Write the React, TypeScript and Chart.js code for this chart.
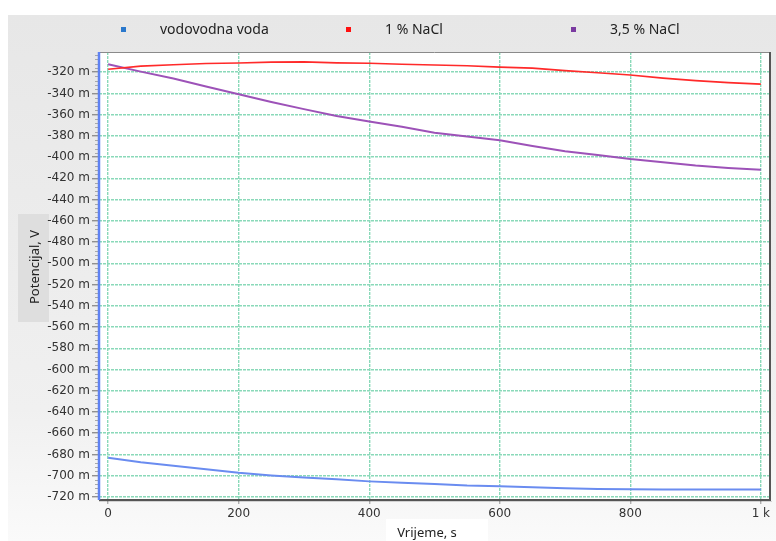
import React, { useEffect, useRef } from "react";
import { Chart, registerables } from "chart.js";

Chart.register(...registerables);

// ---- data (potential in mV, time in s) ----
const TIME_S = [0, 50, 100, 150, 200, 250, 300, 350, 400, 450, 500, 550, 600, 650, 700, 750, 800, 850, 900, 950, 1000];
const TAP_WATER_MV = [-683.1, -687.3, -690.7, -694.0, -697.3, -699.8, -701.8, -703.5, -705.4, -706.7, -707.9, -709.3, -710.0, -711.0, -711.8, -712.5, -712.9, -713.1, -713.1, -713.1, -713.1];
const NACL_1_MV = [-317.2, -314.3, -313.0, -311.8, -311.3, -310.5, -310.3, -311.2, -311.6, -312.6, -313.3, -314.0, -315.2, -316.2, -318.5, -320.5, -322.6, -325.6, -328.0, -329.8, -331.3];
const NACL_35_MV = [-312.5, -319.5, -326.0, -333.5, -340.7, -348.0, -354.8, -361.2, -366.4, -371.5, -377.0, -380.6, -384.2, -389.5, -394.5, -398.0, -401.8, -404.8, -408.0, -410.2, -411.9];

const SERIES_LABELS = ["vodovodna voda", "1 % NaCl", "3,5 % NaCl"];
const LINE_COLORS = ["#6a8cf0", "#ff2a2a", "#9d52b8"];
const MARKER_COLORS = ["#2a78cc", "#ff1010", "#7a3aa0"];

const X_TICKS = [0, 200, 400, 600, 800, 1000];
const X_TICK_LABELS = ["0", "200", "400", "600", "800", "1 k"];
const Y_TICKS = [-720, -700, -680, -660, -640, -620, -600, -580, -560, -540, -520, -500, -480, -460, -440, -420, -400, -380, -360, -340, -320];
const Y_MINOR_STEP = 4;

const X_TITLE = "Vrijeme, s";
const Y_TITLE = "Potencijal, V";

const W = 776;
const H = 541;

const decorPlugin = {
  id: "decor",
  beforeDraw(chart: any) {
    const ctx = chart.ctx;
    const ca = chart.chartArea;
    ctx.save();
    ctx.fillStyle = "#ffffff";
    ctx.fillRect(0, 0, W, H);
    const g = ctx.createLinearGradient(0, 15, 0, H);
    g.addColorStop(0, "#e7e7e7");
    g.addColorStop(0.75, "#f0f0f0");
    g.addColorStop(1, "#fafafa");
    ctx.fillStyle = g;
    ctx.fillRect(8, 15, W - 8, H - 15);
    // plot area
    ctx.fillStyle = "#ffffff";
    ctx.fillRect(ca.left, ca.top, ca.right - ca.left, ca.bottom - ca.top);
    // title boxes
    ctx.fillStyle = "#dedede";
    ctx.fillRect(18, 214, 31, 108);
    ctx.fillStyle = "#ffffff";
    ctx.fillRect(386, 519, 102, H - 519);
    ctx.restore();
  },
  afterDraw(chart: any) {
    const ctx = chart.ctx;
    const ca = chart.chartArea;
    const ys = chart.scales.y;
    ctx.save();
    // minor ticks on y axis
    ctx.strokeStyle = "#a8a8a8";
    ctx.lineWidth = 1;
    for (let v = Y_TICKS[0]; v <= ys.max; v += Y_MINOR_STEP) {
      if (v % 20 === 0) continue;
      const py = Math.round(ys.getPixelForValue(v)) + 0.5;
      if (py < ca.top || py > ca.bottom) continue;
      ctx.beginPath();
      ctx.moveTo(ca.left - 4, py);
      ctx.lineTo(ca.left, py);
      ctx.stroke();
    }
    // borders
    ctx.strokeStyle = "#8a8a8a";
    ctx.lineWidth = 1;
    ctx.beginPath();
    ctx.moveTo(ca.left, ca.top + 0.5);
    ctx.lineTo(ca.right, ca.top + 0.5);
    ctx.stroke();
    ctx.strokeStyle = "#555555";
    ctx.lineWidth = 2;
    ctx.beginPath();
    ctx.moveTo(ca.right, ca.top);
    ctx.lineTo(ca.right, ca.bottom + 1);
    ctx.stroke();
    ctx.beginPath();
    ctx.moveTo(ca.left, ca.bottom + 1);
    ctx.lineTo(ca.right + 1, ca.bottom + 1);
    ctx.stroke();
    ctx.strokeStyle = "rgba(0,0,0,0.15)";
    ctx.lineWidth = 1;
    ctx.beginPath();
    ctx.moveTo(ca.left, ca.bottom + 2.5);
    ctx.lineTo(ca.right + 2, ca.bottom + 2.5);
    ctx.stroke();
    ctx.strokeStyle = "#5f82f2";
    ctx.lineWidth = 2.5;
    ctx.beginPath();
    ctx.moveTo(ca.left, ca.top);
    ctx.lineTo(ca.left, ca.bottom + 1);
    ctx.stroke();

    // legend
    const legendX = [121, 346, 571];
    ctx.font = "14px 'Noto Sans'";
    ctx.textBaseline = "middle";
    ctx.textAlign = "left";
    SERIES_LABELS.forEach((lab, i) => {
      ctx.fillStyle = MARKER_COLORS[i];
      ctx.fillRect(legendX[i], 27, 5, 5);
      ctx.fillStyle = "#222222";
      ctx.fillText(lab, legendX[i] + 39, 30);
    });

    // axis titles
    ctx.fillStyle = "#222222";
    ctx.font = "13px 'Noto Sans'";
    ctx.textAlign = "center";
    ctx.textBaseline = "middle";
    ctx.fillText(X_TITLE, 427, 533);
    ctx.save();
    ctx.translate(35, 267);
    ctx.rotate(-Math.PI / 2);
    ctx.fillText(Y_TITLE, 0, 0);
    ctx.restore();
    ctx.restore();
  },
};

export default function App() {
  const canvasRef = useRef<HTMLCanvasElement | null>(null);

  useEffect(() => {
    document.body.style.margin = "0";
    const canvas = canvasRef.current;
    if (!canvas) return;
    const chart = new Chart(canvas, {
      type: "line",
      data: {
        datasets: [
          {
            label: SERIES_LABELS[0],
            data: TIME_S.map((t, i) => ({ x: t, y: TAP_WATER_MV[i] })),
            borderColor: LINE_COLORS[0],
            borderWidth: 2,
            pointRadius: 0,
            tension: 0,
          },
          {
            label: SERIES_LABELS[1],
            data: TIME_S.map((t, i) => ({ x: t, y: NACL_1_MV[i] })),
            borderColor: LINE_COLORS[1],
            borderWidth: 1.6,
            pointRadius: 0,
            tension: 0,
          },
          {
            label: SERIES_LABELS[2],
            data: TIME_S.map((t, i) => ({ x: t, y: NACL_35_MV[i] })),
            borderColor: LINE_COLORS[2],
            borderWidth: 2,
            pointRadius: 0,
            tension: 0,
          },
        ],
      },
      options: {
        animation: false,
        responsive: false,
        devicePixelRatio: 1,
        layout: { padding: { top: 52, right: 6, left: 0, bottom: 0 } },
        plugins: {
          legend: { display: false },
          tooltip: { enabled: false },
        },
        scales: {
          x: {
            type: "linear",
            min: -14,
            max: 1014,
            afterBuildTicks: (s: any) => {
              s.ticks = X_TICKS.map((v) => ({ value: v }));
            },
            afterFit: (s: any) => {
              s.height = 42;
            },
            ticks: {
              autoSkip: false,
              maxRotation: 0,
              padding: 3,
              color: "#333333",
              font: { family: "'DejaVu Sans'", size: 12 },
              callback: (v: any) => {
                const i = X_TICKS.indexOf(Number(v));
                return i >= 0 ? X_TICK_LABELS[i] : "";
              },
            },
            grid: {
              color: "#8ad9b9",
              lineWidth: 1.4,
              tickLength: 5,
              tickColor: "#b0b0b0",
              drawOnChartArea: true,
            },
            border: { display: false, dash: [3, 1] },
          },
          y: {
            type: "linear",
            min: -722,
            max: -301,
            afterBuildTicks: (s: any) => {
              s.ticks = Y_TICKS.map((v) => ({ value: v }));
            },
            afterFit: (s: any) => {
              s.width = 99;
            },
            ticks: {
              autoSkip: false,
              padding: 2,
              color: "#333333",
              font: { family: "'DejaVu Sans'", size: 12 },
              callback: (v: any) => `${v} m`,
            },
            grid: {
              color: "#8ad9b9",
              lineWidth: 1.4,
              tickLength: 7,
              tickColor: "#909090",
            },
            border: { display: false, dash: [3, 1] },
          },
        },
      },
      plugins: [decorPlugin],
    });
    return () => chart.destroy();
  }, []);

  return (
    <div style={{ position: "absolute", left: 0, top: 0, width: W, height: H }}>
      <canvas ref={canvasRef} width={W} height={H} style={{ width: W, height: H, display: "block" }} />
    </div>
  );
}
